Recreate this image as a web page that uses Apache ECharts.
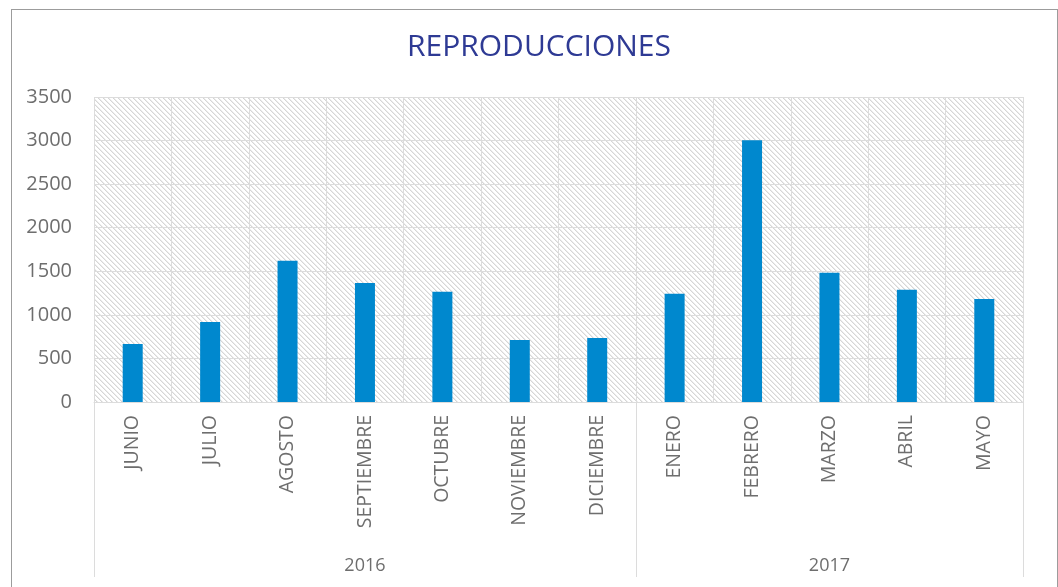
<!DOCTYPE html>
<html>
<head>
<meta charset="utf-8">
<script src="https://cdn.jsdelivr.net/npm/echarts@6/dist/echarts.min.js"></script>
<style>
  body { margin: 0; background: #fff; }
  #main { position: absolute; left: 0; top: 0; width: 1058px; height: 587px; }
  #frame {
    position: absolute; left: 11px; top: 9px; width: 1045px; height: 600px;
    border: 1px solid #9c9c9c; border-bottom: none; pointer-events: none;
  }
</style>
</head>
<body>
<div id="main"></div>
<div id="frame"></div>
<script>
// datos
var meses = ["JUNIO", "JULIO", "AGOSTO", "SEPTIEMBRE", "OCTUBRE", "NOVIEMBRE",
  "DICIEMBRE", "ENERO", "FEBRERO", "MARZO", "ABRIL", "MAYO"];
var reproducciones = [665, 918, 1620, 1367, 1264, 711, 734, 1241, 3005, 1483, 1287, 1183];
var anios = ["2016", "2017"];
var mesesPorAnio = [7, 5];

// indices de inicio y de centro de cada año
var inicios = [];
var centros = [];
var acc = 0;
mesesPorAnio.forEach(function (n) {
  inicios.push(acc);
  centros.push(acc + Math.floor(n / 2));
  acc += n;
});
function anioDe(i) {
  for (var k = inicios.length - 1; k >= 0; k--) {
    if (i >= inicios[k]) return anios[k];
  }
  return "";
}

// rayado diagonal del fondo
var tile = document.createElement("canvas");
tile.width = 5;
tile.height = 5;
var ctx = tile.getContext("2d");
ctx.fillStyle = "#ffffff";
ctx.fillRect(0, 0, 5, 5);
for (var i = 0; i < 5; i++) {
  ctx.fillStyle = "#d6d6d6";
  ctx.fillRect(i, i, 1, 1);
  ctx.fillStyle = "#ececec";
  ctx.fillRect((i + 1) % 5, i, 1, 1);
}

var gris = "#6e6e6e";
var linea = "#dcdcdc";
var fuente = "Open Sans";

var myChart = echarts.init(document.getElementById("main"));
var option = {
  backgroundColor: "#ffffff",
  animation: false,
  title: {
    text: "REPRODUCCIONES",
    left: 534,
    top: 27,
    textAlign: "center",
    textStyle: {
      color: "#2e3a94",
      fontFamily: fuente,
      fontSize: 30,
      fontWeight: "normal",
    },
  },
  grid: {
    left: 94,
    right: 35,
    top: 97,
    bottom: 185,
    show: true,
    borderWidth: 0,
    backgroundColor: { image: tile, repeat: "repeat" },
  },
  xAxis: [
    {
      type: "category",
      data: meses,
      position: "bottom",
      axisLine: { show: true, lineStyle: { color: linea, width: 1 } },
      axisTick: { show: false },
      splitLine: { show: true, interval: 0, lineStyle: { color: linea, width: 1 } },
      axisLabel: {
        interval: 0,
        rotate: 90,
        margin: 13,
        color: gris,
        fontFamily: fuente,
        fontSize: 19.5,
      },
    },
    {
      // segundo nivel: años
      type: "category",
      data: meses,
      position: "bottom",
      offset: 175,
      axisLine: { show: false },
      axisTick: {
        show: true,
        inside: true,
        length: 175,
        interval: function (index) {
          return inicios.indexOf(index) >= 0;
        },
        lineStyle: { color: linea, width: 1 },
      },
      splitLine: { show: false },
      axisLabel: {
        inside: true,
        margin: 2,
        color: gris,
        fontFamily: fuente,
        fontSize: 18,
        interval: function (index) {
          return centros.indexOf(index) >= 0;
        },
        formatter: function (value, index) {
          return anioDe(index);
        },
      },
    },
  ],
  yAxis: {
    type: "value",
    min: 0,
    max: 3500,
    interval: 500,
    axisLine: { show: false },
    axisTick: { show: false },
    splitLine: { show: true, lineStyle: { color: linea, width: 1 } },
    axisLabel: {
      margin: 22,
      color: gris,
      fontFamily: fuente,
      fontSize: 20,
      formatter: function (v) {
        return String(v);
      },
    },
  },
  series: [
    {
      name: "Reproducciones",
      type: "bar",
      xAxisIndex: 0,
      data: reproducciones,
      barWidth: 20,
      itemStyle: { color: "#0088ce" },
    },
  ],
};
myChart.setOption(option);
</script>
</body>
</html>
